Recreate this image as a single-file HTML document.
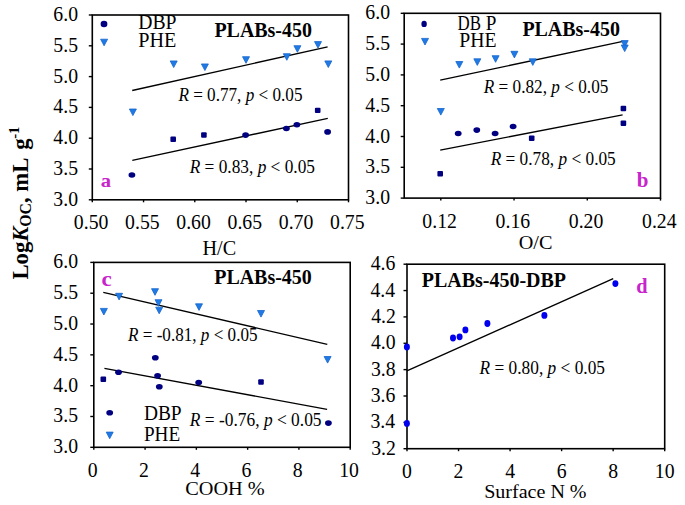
<!DOCTYPE html><html><head><meta charset="utf-8"><style>html,body{margin:0;padding:0;background:#fff;}svg{display:block;font-family:"Liberation Serif",serif;}</style></head><body>
<svg width="685" height="505" viewBox="0 0 685 505">
<rect width="685" height="505" fill="#fff"/>
<rect x="92.30" y="15.00" width="256.20" height="184.80" fill="none" stroke="#000" stroke-width="1.6"/>
<line x1="88.80" y1="199.80" x2="92.30" y2="199.80" stroke="#000" stroke-width="1.4"/>
<text transform="translate(77.99,205.82) scale(0.9400,1)" font-size="21.0" text-anchor="end">3.0</text>
<line x1="88.80" y1="169.00" x2="92.30" y2="169.00" stroke="#000" stroke-width="1.4"/>
<text transform="translate(77.99,174.97) scale(0.9400,1)" font-size="21.0" text-anchor="end">3.5</text>
<line x1="88.80" y1="138.20" x2="92.30" y2="138.20" stroke="#000" stroke-width="1.4"/>
<text transform="translate(77.99,144.22) scale(0.9400,1)" font-size="21.0" text-anchor="end">4.0</text>
<line x1="88.80" y1="107.40" x2="92.30" y2="107.40" stroke="#000" stroke-width="1.4"/>
<text transform="translate(77.99,113.37) scale(0.9400,1)" font-size="21.0" text-anchor="end">4.5</text>
<line x1="88.80" y1="76.60" x2="92.30" y2="76.60" stroke="#000" stroke-width="1.4"/>
<text transform="translate(77.99,82.63) scale(0.9400,1)" font-size="21.0" text-anchor="end">5.0</text>
<line x1="88.80" y1="45.80" x2="92.30" y2="45.80" stroke="#000" stroke-width="1.4"/>
<text transform="translate(77.99,51.72) scale(0.9400,1)" font-size="21.0" text-anchor="end">5.5</text>
<line x1="88.80" y1="15.00" x2="92.30" y2="15.00" stroke="#000" stroke-width="1.4"/>
<text transform="translate(77.99,21.02) scale(0.9400,1)" font-size="21.0" text-anchor="end">6.0</text>
<line x1="92.30" y1="199.80" x2="92.30" y2="202.30" stroke="#000" stroke-width="1.4"/>
<line x1="143.54" y1="199.80" x2="143.54" y2="202.30" stroke="#000" stroke-width="1.4"/>
<line x1="194.78" y1="199.80" x2="194.78" y2="202.30" stroke="#000" stroke-width="1.4"/>
<line x1="246.02" y1="199.80" x2="246.02" y2="202.30" stroke="#000" stroke-width="1.4"/>
<line x1="297.26" y1="199.80" x2="297.26" y2="202.30" stroke="#000" stroke-width="1.4"/>
<line x1="348.50" y1="199.80" x2="348.50" y2="202.30" stroke="#000" stroke-width="1.4"/>
<text transform="translate(91.10,228.60) scale(0.9400,1)" font-size="21.0" text-anchor="middle">0.50</text>
<text transform="translate(142.34,228.60) scale(0.9400,1)" font-size="21.0" text-anchor="middle">0.55</text>
<text transform="translate(193.58,228.60) scale(0.9400,1)" font-size="21.0" text-anchor="middle">0.60</text>
<text transform="translate(244.82,228.60) scale(0.9400,1)" font-size="21.0" text-anchor="middle">0.65</text>
<text transform="translate(296.06,228.60) scale(0.9400,1)" font-size="21.0" text-anchor="middle">0.70</text>
<text transform="translate(347.30,228.60) scale(0.9400,1)" font-size="21.0" text-anchor="middle">0.75</text>
<text transform="translate(202.49,255.30) scale(0.9946,1)" font-size="20.3">H/C</text>
<line x1="132.20" y1="90.50" x2="327.60" y2="46.80" stroke="#000" stroke-width="1.3"/>
<line x1="132.30" y1="160.30" x2="327.80" y2="118.40" stroke="#000" stroke-width="1.3"/>
<path d="M129.40,109.00L136.40,109.00L132.90,115.60Z" fill="#1f7ae6" stroke="#1766cc" stroke-width="0.8" stroke-linejoin="round"/>
<path d="M170.20,60.95L177.20,60.95L173.70,67.55Z" fill="#1f7ae6" stroke="#1766cc" stroke-width="0.8" stroke-linejoin="round"/>
<path d="M201.40,63.95L208.40,63.95L204.90,70.55Z" fill="#1f7ae6" stroke="#1766cc" stroke-width="0.8" stroke-linejoin="round"/>
<path d="M242.50,56.70L249.50,56.70L246.00,63.30Z" fill="#1f7ae6" stroke="#1766cc" stroke-width="0.8" stroke-linejoin="round"/>
<path d="M283.30,53.70L290.30,53.70L286.80,60.30Z" fill="#1f7ae6" stroke="#1766cc" stroke-width="0.8" stroke-linejoin="round"/>
<path d="M293.90,45.70L300.90,45.70L297.40,52.30Z" fill="#1f7ae6" stroke="#1766cc" stroke-width="0.8" stroke-linejoin="round"/>
<path d="M314.50,41.60L321.50,41.60L318.00,48.20Z" fill="#1f7ae6" stroke="#1766cc" stroke-width="0.8" stroke-linejoin="round"/>
<path d="M324.80,60.90L331.80,60.90L328.30,67.50Z" fill="#1f7ae6" stroke="#1766cc" stroke-width="0.8" stroke-linejoin="round"/>
<ellipse cx="131.90" cy="175.00" rx="3.4" ry="2.8" fill="#000080"/>
<rect x="170.40" y="136.60" width="5.6" height="5.4" rx="1" fill="#000080"/>
<rect x="201.10" y="132.30" width="5.6" height="5.4" rx="1" fill="#000080"/>
<ellipse cx="245.60" cy="135.10" rx="3.4" ry="2.8" fill="#000080"/>
<ellipse cx="286.40" cy="128.50" rx="3.4" ry="2.8" fill="#000080"/>
<ellipse cx="296.90" cy="124.70" rx="3.4" ry="2.8" fill="#000080"/>
<rect x="314.90" y="107.70" width="5.6" height="5.4" rx="1" fill="#000080"/>
<ellipse cx="327.60" cy="131.90" rx="3.4" ry="2.8" fill="#000080"/>
<ellipse cx="104.00" cy="24.00" rx="3.4" ry="3.3" fill="#000080"/>
<path d="M100.60,39.20L107.60,39.20L104.10,45.80Z" fill="#1f7ae6" stroke="#1766cc" stroke-width="0.8" stroke-linejoin="round"/>
<text transform="translate(138.21,29.40) scale(0.9840,1)" font-size="20">DBP</text>
<text transform="translate(138.20,46.90) scale(1.0083,1)" font-size="20">PHE</text>
<text transform="translate(214.40,36.70) scale(0.9736,1)" font-size="20.5" font-weight="bold">PLABs-450</text>
<text transform="translate(178.39,101.20) scale(0.9273,1)" font-size="18.5"><tspan font-style="italic">R</tspan> = 0.77, <tspan font-style="italic">p</tspan> &lt; 0.05</text>
<text transform="translate(189.69,172.80) scale(0.9363,1)" font-size="18.5"><tspan font-style="italic">R</tspan> = 0.83, <tspan font-style="italic">p</tspan> &lt; 0.05</text>
<text transform="translate(100.78,186.60) scale(1.0549,1)" font-size="19.58" font-weight="bold" fill="#c824cc">a</text>
<rect x="404.20" y="13.30" width="256.30" height="184.80" fill="none" stroke="#000" stroke-width="1.6"/>
<line x1="400.70" y1="198.10" x2="404.20" y2="198.10" stroke="#000" stroke-width="1.4"/>
<text transform="translate(389.99,204.12) scale(0.9400,1)" font-size="21.0" text-anchor="end">3.0</text>
<line x1="400.70" y1="167.30" x2="404.20" y2="167.30" stroke="#000" stroke-width="1.4"/>
<text transform="translate(389.99,173.27) scale(0.9400,1)" font-size="21.0" text-anchor="end">3.5</text>
<line x1="400.70" y1="136.50" x2="404.20" y2="136.50" stroke="#000" stroke-width="1.4"/>
<text transform="translate(389.99,142.52) scale(0.9400,1)" font-size="21.0" text-anchor="end">4.0</text>
<line x1="400.70" y1="105.70" x2="404.20" y2="105.70" stroke="#000" stroke-width="1.4"/>
<text transform="translate(389.99,111.67) scale(0.9400,1)" font-size="21.0" text-anchor="end">4.5</text>
<line x1="400.70" y1="74.90" x2="404.20" y2="74.90" stroke="#000" stroke-width="1.4"/>
<text transform="translate(389.99,80.93) scale(0.9400,1)" font-size="21.0" text-anchor="end">5.0</text>
<line x1="400.70" y1="44.10" x2="404.20" y2="44.10" stroke="#000" stroke-width="1.4"/>
<text transform="translate(389.99,50.02) scale(0.9400,1)" font-size="21.0" text-anchor="end">5.5</text>
<line x1="400.70" y1="13.30" x2="404.20" y2="13.30" stroke="#000" stroke-width="1.4"/>
<text transform="translate(389.99,19.33) scale(0.9400,1)" font-size="21.0" text-anchor="end">6.0</text>
<line x1="440.81" y1="198.10" x2="440.81" y2="200.60" stroke="#000" stroke-width="1.4"/>
<line x1="514.04" y1="198.10" x2="514.04" y2="200.60" stroke="#000" stroke-width="1.4"/>
<line x1="587.27" y1="198.10" x2="587.27" y2="200.60" stroke="#000" stroke-width="1.4"/>
<line x1="660.50" y1="198.10" x2="660.50" y2="200.60" stroke="#000" stroke-width="1.4"/>
<text transform="translate(439.61,227.60) scale(0.9400,1)" font-size="21.0" text-anchor="middle">0.12</text>
<text transform="translate(512.84,227.60) scale(0.9400,1)" font-size="21.0" text-anchor="middle">0.16</text>
<text transform="translate(586.07,227.60) scale(0.9400,1)" font-size="21.0" text-anchor="middle">0.20</text>
<text transform="translate(659.30,227.60) scale(0.9400,1)" font-size="21.0" text-anchor="middle">0.24</text>
<text transform="translate(518.69,249.10) scale(1.0204,1)" font-size="19.85">O/C</text>
<line x1="440.20" y1="80.20" x2="622.90" y2="41.30" stroke="#000" stroke-width="1.3"/>
<line x1="440.20" y1="150.10" x2="622.60" y2="114.90" stroke="#000" stroke-width="1.3"/>
<path d="M437.30,108.50L444.30,108.50L440.80,115.10Z" fill="#1f7ae6" stroke="#1766cc" stroke-width="0.8" stroke-linejoin="round"/>
<path d="M455.80,61.50L462.80,61.50L459.30,68.10Z" fill="#1f7ae6" stroke="#1766cc" stroke-width="0.8" stroke-linejoin="round"/>
<path d="M473.80,58.80L480.80,58.80L477.30,65.40Z" fill="#1f7ae6" stroke="#1766cc" stroke-width="0.8" stroke-linejoin="round"/>
<path d="M492.10,55.70L499.10,55.70L495.60,62.30Z" fill="#1f7ae6" stroke="#1766cc" stroke-width="0.8" stroke-linejoin="round"/>
<path d="M510.90,51.30L517.90,51.30L514.40,57.90Z" fill="#1f7ae6" stroke="#1766cc" stroke-width="0.8" stroke-linejoin="round"/>
<path d="M529.30,58.80L536.30,58.80L532.80,65.40Z" fill="#1f7ae6" stroke="#1766cc" stroke-width="0.8" stroke-linejoin="round"/>
<path d="M621.20,40.60L628.20,40.60L624.70,47.20Z" fill="#1f7ae6" stroke="#1766cc" stroke-width="0.8" stroke-linejoin="round"/>
<path d="M621.20,45.00L628.20,45.00L624.70,51.60Z" fill="#1f7ae6" stroke="#1766cc" stroke-width="0.8" stroke-linejoin="round"/>
<rect x="437.40" y="171.00" width="5.6" height="5.4" rx="1" fill="#000080"/>
<ellipse cx="458.20" cy="133.50" rx="3.4" ry="2.8" fill="#000080"/>
<ellipse cx="476.80" cy="130.10" rx="3.4" ry="2.8" fill="#000080"/>
<ellipse cx="495.10" cy="133.50" rx="3.4" ry="2.8" fill="#000080"/>
<ellipse cx="513.10" cy="126.50" rx="3.4" ry="2.8" fill="#000080"/>
<rect x="528.90" y="135.50" width="5.6" height="5.4" rx="1" fill="#000080"/>
<rect x="620.60" y="105.80" width="5.6" height="5.4" rx="1" fill="#000080"/>
<rect x="620.60" y="120.50" width="5.6" height="5.4" rx="1" fill="#000080"/>
<ellipse cx="424.10" cy="23.90" rx="2.7" ry="3.2" fill="#000080"/>
<path d="M421.50,38.40L428.50,38.40L425.00,45.00Z" fill="#1f7ae6" stroke="#1766cc" stroke-width="0.8" stroke-linejoin="round"/>
<text transform="translate(457.59,30.00) scale(0.8435,1)" font-size="20">DB</text>
<text transform="translate(485.72,30.10) scale(0.9588,1)" font-size="20">P</text>
<text transform="translate(459.21,47.30) scale(0.9862,1)" font-size="20">PHE</text>
<text transform="translate(522.40,35.50) scale(0.9726,1)" font-size="20.5" font-weight="bold">PLABs-450</text>
<text transform="translate(483.79,92.70) scale(0.9303,1)" font-size="18.5"><tspan font-style="italic">R</tspan> = 0.82, <tspan font-style="italic">p</tspan> &lt; 0.05</text>
<text transform="translate(490.69,165.40) scale(0.9341,1)" font-size="18.5"><tspan font-style="italic">R</tspan> = 0.78, <tspan font-style="italic">p</tspan> &lt; 0.05</text>
<text transform="translate(636.78,186.58) scale(0.9740,1)" font-size="21.56" font-weight="bold" fill="#c824cc">b</text>
<rect x="93.80" y="262.40" width="256.40" height="184.90" fill="none" stroke="#000" stroke-width="1.6"/>
<line x1="90.30" y1="447.30" x2="93.80" y2="447.30" stroke="#000" stroke-width="1.4"/>
<text transform="translate(77.99,453.32) scale(0.9400,1)" font-size="21.0" text-anchor="end">3.0</text>
<line x1="90.30" y1="416.48" x2="93.80" y2="416.48" stroke="#000" stroke-width="1.4"/>
<text transform="translate(77.99,422.46) scale(0.9400,1)" font-size="21.0" text-anchor="end">3.5</text>
<line x1="90.30" y1="385.67" x2="93.80" y2="385.67" stroke="#000" stroke-width="1.4"/>
<text transform="translate(77.99,391.69) scale(0.9400,1)" font-size="21.0" text-anchor="end">4.0</text>
<line x1="90.30" y1="354.85" x2="93.80" y2="354.85" stroke="#000" stroke-width="1.4"/>
<text transform="translate(77.99,360.82) scale(0.9400,1)" font-size="21.0" text-anchor="end">4.5</text>
<line x1="90.30" y1="324.03" x2="93.80" y2="324.03" stroke="#000" stroke-width="1.4"/>
<text transform="translate(77.99,330.06) scale(0.9400,1)" font-size="21.0" text-anchor="end">5.0</text>
<line x1="90.30" y1="293.22" x2="93.80" y2="293.22" stroke="#000" stroke-width="1.4"/>
<text transform="translate(77.99,299.14) scale(0.9400,1)" font-size="21.0" text-anchor="end">5.5</text>
<line x1="90.30" y1="262.40" x2="93.80" y2="262.40" stroke="#000" stroke-width="1.4"/>
<text transform="translate(77.99,268.42) scale(0.9400,1)" font-size="21.0" text-anchor="end">6.0</text>
<line x1="93.80" y1="447.30" x2="93.80" y2="449.80" stroke="#000" stroke-width="1.4"/>
<line x1="145.08" y1="447.30" x2="145.08" y2="449.80" stroke="#000" stroke-width="1.4"/>
<line x1="196.36" y1="447.30" x2="196.36" y2="449.80" stroke="#000" stroke-width="1.4"/>
<line x1="247.64" y1="447.30" x2="247.64" y2="449.80" stroke="#000" stroke-width="1.4"/>
<line x1="298.92" y1="447.30" x2="298.92" y2="449.80" stroke="#000" stroke-width="1.4"/>
<line x1="350.20" y1="447.30" x2="350.20" y2="449.80" stroke="#000" stroke-width="1.4"/>
<text transform="translate(92.60,476.60) scale(0.9400,1)" font-size="21.0" text-anchor="middle">0</text>
<text transform="translate(143.88,476.60) scale(0.9400,1)" font-size="21.0" text-anchor="middle">2</text>
<text transform="translate(195.16,476.60) scale(0.9400,1)" font-size="21.0" text-anchor="middle">4</text>
<text transform="translate(246.44,476.60) scale(0.9400,1)" font-size="21.0" text-anchor="middle">6</text>
<text transform="translate(297.72,476.60) scale(0.9400,1)" font-size="21.0" text-anchor="middle">8</text>
<text transform="translate(349.00,476.60) scale(0.9400,1)" font-size="21.0" text-anchor="middle">10</text>
<text transform="translate(185.19,494.72) scale(1.0707,1)" font-size="18.97">COOH %</text>
<line x1="103.30" y1="292.40" x2="327.30" y2="344.30" stroke="#000" stroke-width="1.3"/>
<line x1="104.40" y1="368.30" x2="327.10" y2="409.40" stroke="#000" stroke-width="1.3"/>
<path d="M100.35,308.40L107.35,308.40L103.85,315.00Z" fill="#1f7ae6" stroke="#1766cc" stroke-width="0.8" stroke-linejoin="round"/>
<path d="M115.60,293.30L122.60,293.30L119.10,299.90Z" fill="#1f7ae6" stroke="#1766cc" stroke-width="0.8" stroke-linejoin="round"/>
<path d="M151.50,288.70L158.50,288.70L155.00,295.30Z" fill="#1f7ae6" stroke="#1766cc" stroke-width="0.8" stroke-linejoin="round"/>
<path d="M155.00,299.70L162.00,299.70L158.50,306.30Z" fill="#1f7ae6" stroke="#1766cc" stroke-width="0.8" stroke-linejoin="round"/>
<path d="M155.70,307.20L162.70,307.20L159.20,313.80Z" fill="#1f7ae6" stroke="#1766cc" stroke-width="0.8" stroke-linejoin="round"/>
<path d="M195.50,303.80L202.50,303.80L199.00,310.40Z" fill="#1f7ae6" stroke="#1766cc" stroke-width="0.8" stroke-linejoin="round"/>
<path d="M257.50,310.50L264.50,310.50L261.00,317.10Z" fill="#1f7ae6" stroke="#1766cc" stroke-width="0.8" stroke-linejoin="round"/>
<path d="M324.10,356.50L331.10,356.50L327.60,363.10Z" fill="#1f7ae6" stroke="#1766cc" stroke-width="0.8" stroke-linejoin="round"/>
<rect x="100.50" y="376.60" width="5.6" height="5.4" rx="1" fill="#000080"/>
<ellipse cx="118.50" cy="372.30" rx="3.4" ry="2.8" fill="#000080"/>
<ellipse cx="155.30" cy="357.70" rx="3.4" ry="2.8" fill="#000080"/>
<ellipse cx="157.60" cy="375.70" rx="3.4" ry="2.8" fill="#000080"/>
<ellipse cx="159.30" cy="386.80" rx="3.4" ry="2.8" fill="#000080"/>
<ellipse cx="198.70" cy="382.50" rx="3.4" ry="2.8" fill="#000080"/>
<rect x="258.20" y="379.30" width="5.6" height="5.4" rx="1" fill="#000080"/>
<ellipse cx="328.40" cy="423.10" rx="3.4" ry="2.8" fill="#000080"/>
<ellipse cx="109.70" cy="412.80" rx="3.4" ry="2.8" fill="#000080"/>
<path d="M106.20,432.10L113.20,432.10L109.70,438.70Z" fill="#1f7ae6" stroke="#1766cc" stroke-width="0.8" stroke-linejoin="round"/>
<text transform="translate(143.92,420.00) scale(0.9707,1)" font-size="20">DBP</text>
<text transform="translate(143.92,440.50) scale(0.9586,1)" font-size="20">PHE</text>
<text transform="translate(214.20,283.90) scale(0.9736,1)" font-size="20.5" font-weight="bold">PLABs-450</text>
<text transform="translate(127.99,341.20) scale(0.9251,1)" font-size="18.5"><tspan font-style="italic">R</tspan> = -0.81, <tspan font-style="italic">p</tspan> &lt; 0.05</text>
<text transform="translate(189.79,425.70) scale(0.9408,1)" font-size="18.5"><tspan font-style="italic">R</tspan> = -0.76, <tspan font-style="italic">p</tspan> &lt; 0.05</text>
<text transform="translate(101.59,286.08) scale(1.0669,1)" font-size="21.67" font-weight="bold" fill="#c824cc">c</text>
<rect x="407.00" y="264.20" width="257.70" height="184.50" fill="none" stroke="#000" stroke-width="1.6"/>
<line x1="403.50" y1="448.70" x2="407.00" y2="448.70" stroke="#000" stroke-width="1.4"/>
<text transform="translate(395.89,454.67) scale(0.9400,1)" font-size="21.0" text-anchor="end">3.2</text>
<line x1="403.50" y1="422.34" x2="407.00" y2="422.34" stroke="#000" stroke-width="1.4"/>
<text transform="translate(395.10,428.32) scale(0.9400,1)" font-size="21.0" text-anchor="end">3.4</text>
<line x1="403.50" y1="395.99" x2="407.00" y2="395.99" stroke="#000" stroke-width="1.4"/>
<text transform="translate(395.39,401.96) scale(0.9400,1)" font-size="21.0" text-anchor="end">3.6</text>
<line x1="403.50" y1="369.63" x2="407.00" y2="369.63" stroke="#000" stroke-width="1.4"/>
<text transform="translate(395.59,375.65) scale(0.9400,1)" font-size="21.0" text-anchor="end">3.8</text>
<line x1="403.50" y1="343.27" x2="407.00" y2="343.27" stroke="#000" stroke-width="1.4"/>
<text transform="translate(395.59,349.30) scale(0.9400,1)" font-size="21.0" text-anchor="end">4.0</text>
<line x1="403.50" y1="316.91" x2="407.00" y2="316.91" stroke="#000" stroke-width="1.4"/>
<text transform="translate(395.89,322.89) scale(0.9400,1)" font-size="21.0" text-anchor="end">4.2</text>
<line x1="403.50" y1="290.56" x2="407.00" y2="290.56" stroke="#000" stroke-width="1.4"/>
<text transform="translate(395.10,296.53) scale(0.9400,1)" font-size="21.0" text-anchor="end">4.4</text>
<line x1="403.50" y1="264.20" x2="407.00" y2="264.20" stroke="#000" stroke-width="1.4"/>
<text transform="translate(395.39,270.17) scale(0.9400,1)" font-size="21.0" text-anchor="end">4.6</text>
<line x1="407.00" y1="448.70" x2="407.00" y2="451.20" stroke="#000" stroke-width="1.4"/>
<line x1="458.54" y1="448.70" x2="458.54" y2="451.20" stroke="#000" stroke-width="1.4"/>
<line x1="510.08" y1="448.70" x2="510.08" y2="451.20" stroke="#000" stroke-width="1.4"/>
<line x1="561.62" y1="448.70" x2="561.62" y2="451.20" stroke="#000" stroke-width="1.4"/>
<line x1="613.16" y1="448.70" x2="613.16" y2="451.20" stroke="#000" stroke-width="1.4"/>
<line x1="664.70" y1="448.70" x2="664.70" y2="451.20" stroke="#000" stroke-width="1.4"/>
<text transform="translate(407.00,477.90) scale(0.9400,1)" font-size="21.0" text-anchor="middle">0</text>
<text transform="translate(458.54,477.90) scale(0.9400,1)" font-size="21.0" text-anchor="middle">2</text>
<text transform="translate(510.08,477.90) scale(0.9400,1)" font-size="21.0" text-anchor="middle">4</text>
<text transform="translate(561.62,477.90) scale(0.9400,1)" font-size="21.0" text-anchor="middle">6</text>
<text transform="translate(613.16,477.90) scale(0.9400,1)" font-size="21.0" text-anchor="middle">8</text>
<text transform="translate(664.70,477.90) scale(0.9400,1)" font-size="21.0" text-anchor="middle">10</text>
<text transform="translate(484.20,498.11) scale(1.0380,1)" font-size="19.31">Surface N %</text>
<line x1="406.90" y1="370.90" x2="613.20" y2="278.60" stroke="#000" stroke-width="1.3"/>
<ellipse cx="406.90" cy="347.00" rx="3.0" ry="3.4" fill="#0000ee"/>
<ellipse cx="406.90" cy="423.40" rx="3.0" ry="3.4" fill="#0000ee"/>
<ellipse cx="453.00" cy="338.00" rx="3.0" ry="3.4" fill="#0000ee"/>
<ellipse cx="459.60" cy="336.80" rx="3.0" ry="3.4" fill="#0000ee"/>
<ellipse cx="465.40" cy="329.90" rx="3.0" ry="3.4" fill="#0000ee"/>
<ellipse cx="487.40" cy="323.50" rx="3.0" ry="3.4" fill="#0000ee"/>
<ellipse cx="544.40" cy="315.40" rx="3.0" ry="3.4" fill="#0000ee"/>
<ellipse cx="615.40" cy="283.60" rx="3.0" ry="3.4" fill="#0000ee"/>
<text transform="translate(421.80,287.19) scale(0.9749,1)" font-size="20.5" font-weight="bold">PLABs-450-DBP</text>
<text transform="translate(479.59,373.60) scale(0.9371,1)" font-size="18.5"><tspan font-style="italic">R</tspan> = 0.80, <tspan font-style="italic">p</tspan> &lt; 0.05</text>
<text transform="translate(636.28,292.79) scale(0.9716,1)" font-size="20.99" font-weight="bold" fill="#c824cc">d</text>
<text transform="translate(28,279.5) rotate(-90) scale(0.985,1)" font-size="23" font-weight="bold">Log<tspan font-style="italic">K</tspan><tspan font-size="16" dy="3">OC</tspan><tspan dy="-3">, mL</tspan><tspan dx="2.5"> g</tspan><tspan font-size="15" dy="-9" dx="-0.5">-1</tspan></text>
</svg></body></html>
